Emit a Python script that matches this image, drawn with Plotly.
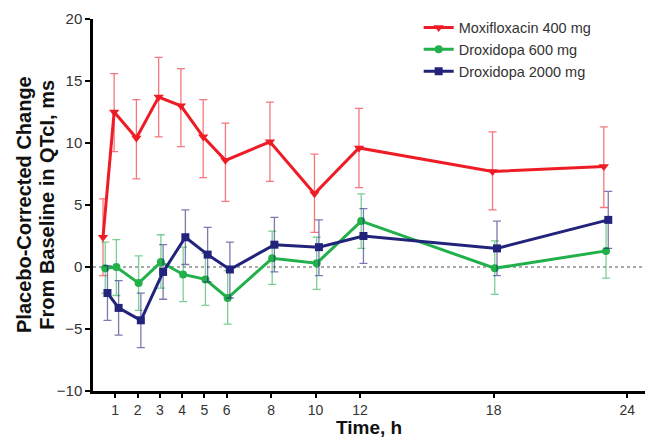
import plotly.graph_objects as go

times = [0.5, 1, 2, 3, 4, 5, 6, 8, 10, 12, 18, 23]
x_ticks = [1, 2, 3, 4, 5, 6, 8, 10, 12, 18, 24]
y_ticks = [-10, -5, 0, 5, 10, 15, 20]

series_names = ["Moxifloxacin 400 mg", "Droxidopa 600 mg", "Droxidopa 2000 mg"]
y_title_lines = ["Placebo-Corrected Change", "From Baseline in QTcI, ms"]
x_title = "Time, h"

moxi_mean = [2.4, 12.5, 10.4, 13.7, 13.0, 10.5, 8.6, 10.1, 5.9, 9.6, 7.7, 8.1]
moxi_upper = [5.5, 15.6, 13.5, 16.9, 16.0, 13.5, 11.6, 13.3, 9.1, 12.8, 10.9, 11.3]
moxi_lower = [-0.7, 9.3, 7.1, 10.5, 9.7, 7.2, 5.3, 6.9, 2.8, 6.4, 4.6, 4.8]

d600_mean = [-0.1, 0.0, -1.3, 0.4, -0.6, -1.0, -2.5, 0.7, 0.3, 3.7, -0.1, 1.3]
d600_upper = [2.0, 2.2, 0.9, 2.6, 1.6, 1.1, -0.3, 2.9, 2.4, 5.9, 2.1, 3.6]
d600_lower = [-2.1, -2.3, -3.5, -1.7, -2.8, -3.1, -4.6, -1.4, -1.8, 1.5, -2.2, -0.9]

d2000_mean = [-2.1, -3.3, -4.3, -0.4, 2.4, 1.0, -0.2, 1.8, 1.6, 2.5, 1.5, 3.8]
d2000_upper = [0.1, -1.1, -2.1, 1.8, 4.6, 3.2, 2.0, 4.0, 3.8, 4.7, 3.7, 6.1]
d2000_lower = [-4.3, -5.5, -6.5, -2.6, 0.2, -1.2, -2.5, -0.4, -0.7, 0.3, -0.7, 1.5]

# small horizontal dodge between groups (hours)
dodge = [-0.05, 0.05, 0.15]

styles = [
    dict(color="#ee1c25", err="rgba(238,28,37,0.6)", symbol="triangle-down", size=9),
    dict(color="#22b04b", err="rgba(34,176,75,0.6)", symbol="circle", size=8),
    dict(color="#22237a", err="rgba(34,35,122,0.6)", symbol="square", size=8),
]

data = [
    (moxi_mean, moxi_upper, moxi_lower),
    (d600_mean, d600_upper, d600_lower),
    (d2000_mean, d2000_upper, d2000_lower),
]

fig = go.Figure()

# zero reference line
fig.add_hline(y=0, line=dict(color="#555555", width=1.2, dash="dot"), layer="below")

for name, (m, up, lo), st, dx in zip(series_names, data, styles, dodge):
    fig.add_trace(go.Scatter(
        x=[t + dx for t in times],
        y=m,
        name=name,
        mode="lines+markers",
        line=dict(color=st["color"], width=3),
        marker=dict(color=st["color"], symbol=st["symbol"], size=st["size"]),
        error_y=dict(
            type="data", symmetric=False,
            array=[u - v for u, v in zip(up, m)],
            arrayminus=[v - l for v, l in zip(m, lo)],
            color=st["err"], thickness=1.3, width=4,
        ),
    ))

# two-line y-axis title as rotated annotations (tighter line spacing)
for line, xpos in zip(y_title_lines, [-0.125, -0.084]):
    fig.add_annotation(
        text=f"<b>{line}</b>", xref="paper", yref="paper", x=xpos, y=0.5,
        xanchor="center", yanchor="middle", textangle=-90, showarrow=False,
        font=dict(size=20, color="#111111"),
    )

# x-axis title placed at the bottom edge
fig.add_annotation(
    text=f"<b>{x_title}</b>", xref="paper", yref="paper", x=0.5, y=-0.128,
    xanchor="center", yanchor="bottom", showarrow=False, borderpad=0,
    font=dict(size=19, color="#111111"),
)

fig.update_layout(
    width=647, height=438,
    margin=dict(l=93, r=2, t=19, b=47),
    paper_bgcolor="white", plot_bgcolor="white",
    font=dict(family="Liberation Sans, Arial, sans-serif", size=15, color="#333333"),
    showlegend=True,
    legend=dict(
        x=0.59, y=1.02, xanchor="left", yanchor="top",
        font=dict(size=14.5, color="#333333"),
        itemwidth=30, tracegroupgap=0,
        bgcolor="rgba(0,0,0,0)",
    ),
    xaxis=dict(
        range=[0, 24.8],
        tickmode="array", tickvals=x_ticks, ticktext=[str(v) for v in x_ticks],
        ticks="outside", ticklen=4, tickwidth=2, tickcolor="black",
        showline=True, linecolor="black", linewidth=2.5,
        showgrid=False, zeroline=False,
        tickfont=dict(size=14, color="#333333"),
    ),
    yaxis=dict(
        range=[-10, 20],
        tickmode="array", tickvals=y_ticks, ticktext=[str(v).replace("-", "\u2212") for v in y_ticks],
        ticks="outside", ticklen=5, tickwidth=2, tickcolor="black",
        showline=True, linecolor="black", linewidth=2.5,
        showgrid=False, zeroline=False,
        tickfont=dict(size=15, color="#333333"),
    ),
)

fig.write_html("out.html", config={"displayModeBar": False},
               post_script="document.body.style.margin='0px';document.body.style.padding='0px';")
